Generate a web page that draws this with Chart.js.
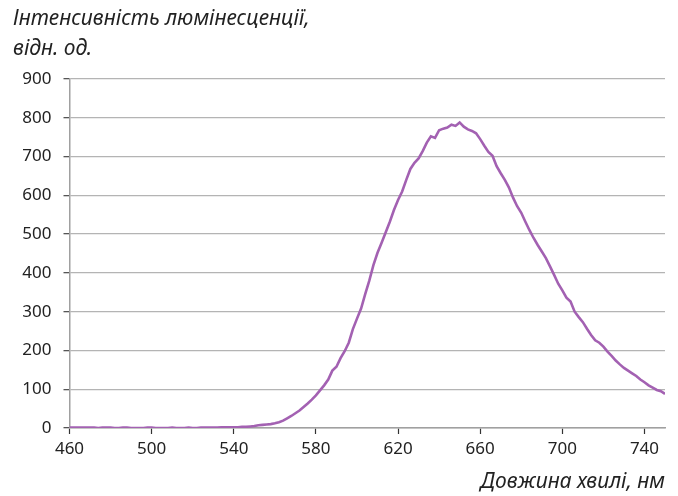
<!DOCTYPE html>
<html>
<head>
<meta charset="utf-8">
<script src="https://cdn.jsdelivr.net/npm/chart.js@4.4.1/dist/chart.umd.min.js"></script>
<style>
  html, body { margin: 0; padding: 0; background: #fff; }
  #wrap { width: 678px; height: 496px; }
</style>
</head>
<body>
<div id="wrap"><canvas id="c" width="678" height="496"></canvas></div>
<script>
// Luminescence spectrum, sampled every 2 nm
const wavelengths = [
  460,462,464,466,468,470,472,474,476,478,480,482,484,486,488,490,492,494,496,498,
  500,502,504,506,508,510,512,514,516,518,520,522,524,526,528,530,532,534,536,538,
  540,542,544,546,548,550,552,554,556,558,560,562,564,566,568,570,572,574,576,578,
  580,582,584,586,588,590,592,594,596,598,600,602,604,606,608,610,612,614,616,618,
  620,622,624,626,628,630,632,634,636,638,640,642,644,646,648,650,652,654,656,658,
  660,662,664,666,668,670,672,674,676,678,680,682,684,686,688,690,692,694,696,698,
  700,702,704,706,708,710,712,714,716,718,720,722,724,726,728,730,732,734,736,738,
  740,742,744,746,748,750
];
const intensity = [
  1,1,1,1,1,1,1,0,1,1,1,0,0,1,1,0,0,0,0,1,
  1,0,0,0,0,1,0,0,0,1,0,0,1,1,1,1,1,2,2,2,
  2,2,3,3,4,5,7,8,9,10,12,15,19,25,31,38,45,54,63,73,
  84,97,110,125,148,158,180,198,220,255,282,308,345,380,420,452,478,505,532,562,
  588,610,640,668,684,695,714,736,752,748,768,772,775,782,779,788,777,770,766,760,
  745,728,712,702,675,657,640,620,594,572,555,532,510,490,472,455,438,417,395,372,
  355,336,326,300,286,273,256,240,226,220,210,197,186,174,164,155,148,141,134,125,
  118,110,104,98,95,88
];
const xTicks = [460, 500, 540, 580, 620, 660, 700, 740];
const yTicks = [0, 100, 200, 300, 400, 500, 600, 700, 800, 900];

const yTitleLines = ['Інтенсивність люмінесценції,', 'відн. од.'];
const xTitle = 'Довжина хвилі, нм';

const points = wavelengths.map((w, i) => ({ x: w, y: intensity[i] }));

const tickFont = { family: '"Noto Sans", sans-serif', size: 17 };
const titleFont = 'italic 21px "Noto Sans", sans-serif';

// Axis titles are placed outside the plot area
const axisTitles = {
  id: 'axisTitles',
  afterDraw(chart) {
    const ctx = chart.ctx;
    ctx.save();
    ctx.fillStyle = '#222';
    ctx.font = titleFont;
    ctx.textBaseline = 'alphabetic';
    ctx.textAlign = 'left';
    ctx.fillText(yTitleLines[0], 13, 25);
    ctx.fillText(yTitleLines[1], 13, 55);
    ctx.textAlign = 'right';
    ctx.fillText(xTitle, chart.chartArea.right, 488);
    ctx.restore();
  }
};

new Chart(document.getElementById('c'), {
  type: 'line',
  data: {
    datasets: [{
      data: points,
      borderColor: 'rgb(163,97,178)',
      borderWidth: 2.6,
      pointRadius: 0,
      tension: 0,
      fill: false
    }]
  },
  options: {
    responsive: false,
    animation: false,
    devicePixelRatio: 1,
    layout: { padding: { top: 79, right: 13, left: 0, bottom: 0 } },
    plugins: { legend: { display: false }, tooltip: { enabled: false } },
    scales: {
      x: {
        type: 'linear',
        min: 460,
        max: 750,
        afterFit(scale) { scale.height = 68; },
        afterBuildTicks(scale) { scale.ticks = xTicks.map(v => ({ value: v })); },
        border: { color: '#a0a0a0', width: 1.5 },
        grid: { drawOnChartArea: false, drawTicks: true, tickLength: 6, tickColor: '#333', tickWidth: 1.2 },
        ticks: { font: tickFont, color: '#222', padding: 5, maxRotation: 0 }
      },
      y: {
        min: 0,
        max: 900,
        afterFit(scale) { scale.width = 69.5; },
        afterBuildTicks(scale) { scale.ticks = yTicks.map(v => ({ value: v })); },
        border: { color: '#a0a0a0', width: 1.5 },
        grid: { color: '#b4b4b4', lineWidth: 1.3, drawTicks: true, tickLength: 6, tickColor: '#555' },
        ticks: { font: tickFont, color: '#222', padding: 12 }
      }
    }
  },
  plugins: [axisTitles]
});
</script>
</body>
</html>
